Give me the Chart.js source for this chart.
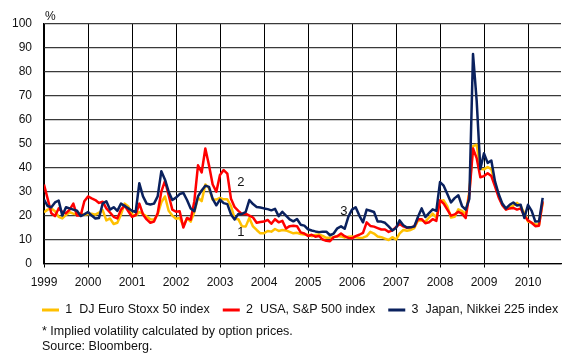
<!DOCTYPE html>
<html>
<head>
<meta charset="utf-8">
<script src="https://cdn.jsdelivr.net/npm/chart.js@4/dist/chart.umd.min.js"></script>
<style>
  html, body { margin: 0; padding: 0; background: #fff; }
  #wrap { position: relative; width: 569px; height: 353px; }
</style>
</head>
<body>
<div id="wrap"><canvas id="c" width="569" height="353"></canvas></div>
<script>
// Year tick labels (x axis), one every 12 months starting Jan 1999
const years = ['1999','2000','2001','2002','2003','2004','2005','2006','2007','2008','2009','2010'];

// Series names
const seriesNames = ['1  DJ Euro Stoxx 50 index', '2  USA, S&P 500 index', '3  Japan, Nikkei 225 index'];

// Monthly implied volatility, %, Jan 1999 .. May 2010
const euroStoxx = [
  21.4, 22.5, 23, 21.8, 19.5, 18.8, 20.3, 21.4, 20.8, 20.6, 21, 20.2,
  20.7, 20.8, 20.4, 21.2, 22.3, 18, 18.8, 16.5, 17, 20.5, 25, 23.8,
  20.5, 20, 21.5, 20.7, 19.6, 18.5, 18.3, 20.5, 25.5, 28, 22, 20,
  18.7, 19, 15.8, 18.8, 17.5, 21.5, 27.5, 26, 33, 31.5, 26.7, 26.7,
  27.4, 26.8, 26.8, 24, 18.7, 18.5, 15.5, 15.4, 19, 15.5, 14, 12.6,
  12.6, 13.6, 13.3, 14.4, 13.6, 14, 13.8, 13.2, 12.6, 12.8, 12.3, 12.1,
  12, 11.4, 11.9, 12.1, 11.5, 10.7, 10.7, 11, 11.5, 11.3, 10.8, 11.2,
  11.3, 11, 10.7, 10.8, 11.4, 13.2, 12.5, 11.3, 11, 10.4, 9.8, 11,
  10, 12.6, 14, 13.7, 14, 14.8, 18, 18, 17.5, 19.2, 20.8, 19.2,
  26, 26.4, 23.8, 19.2, 19.5, 22.6, 22, 20.6, 30, 49, 49.6, 39.5,
  39.3, 40.3, 39.4, 33.6, 28.3, 24.5, 22.7, 23.5, 24.2, 25.3, 24, 21,
  17.5, 17, 16.3, 16.3, 25.3
];
const sp500 = [
  33, 27, 21, 19.8, 23, 21.5, 21, 22.5, 25, 20, 20, 26,
  28, 27.2, 26.5, 25.3, 25.8, 23, 21.3, 19.5, 18.8, 22.5, 24.2, 21.8,
  19.5, 20.2, 25, 20.5, 18.4, 17, 17.5, 21, 30, 34.5, 28.5, 22.5,
  21.6, 21.8, 15, 19, 18.3, 26, 41, 38, 48, 41, 33, 30,
  37, 39, 37.5, 27, 23.5, 22, 20.6, 20.8, 20, 19.2, 17, 17.3,
  17.5, 18.2, 16.6, 18.5, 17.2, 17.8, 14.6, 15.6, 15.8, 15.6, 13, 12.5,
  11.5, 12, 11.2, 11.5, 10, 9.5, 9.3, 11, 11.4, 12.5, 11.4, 10.7,
  10.5, 11.4, 12, 12.8, 17.2, 15.7, 15.4, 14.8, 14.2, 14.2, 13.2, 13.8,
  15.2, 16.5, 15.5, 14.9, 15.1, 15.5, 18.5, 18.5, 16.8, 17.2, 18.5, 17.8,
  26.4, 25, 22.5, 20, 20.5, 21.6, 20.8, 19, 29, 48, 44, 36,
  36.5, 37.7, 36.5, 32.2, 27.6, 24.3, 22.5, 23, 23.2, 22.5, 23, 20,
  18, 17, 15.6, 15.8, 26
];
const nikkei = [
  26.7, 24, 23.5, 25.5, 26.3, 20, 23.5, 23, 22.5, 22, 19.8, 20.5,
  21.5, 20, 18.8, 19, 25, 26, 22.5, 23.5, 22, 25, 24, 23,
  22, 21.5, 33.5, 28, 25, 24.6, 25, 28, 38.5, 35, 30, 26.5,
  27.5, 29, 29.5, 26.5, 23, 21.8, 28, 30.5, 32.5, 32, 27, 24.3,
  26.7, 25.2, 24.8, 20.5, 18.4, 20.7, 20.7, 21.5, 26.5, 24.8, 23.6, 23.4,
  23, 22.7, 22.2, 22.8, 19.8, 21.6, 20, 18.4, 17.6, 18.6, 16.2, 15.8,
  14.3, 13.8, 13.4, 13.1, 13.3, 13.3, 11.8, 12.5, 14.7, 15.5, 14.5, 19.5,
  22.5, 23.5, 20, 17.2, 22.5, 22, 21.5, 17.5, 17.5, 17, 15.5, 13.8,
  14.8, 18, 16, 15, 15.1, 15.5, 19.5, 23, 19.4, 21, 22.6, 22,
  34, 32.5, 29, 25.5, 27.3, 28.5, 24, 22.5, 27, 87.5, 68, 39.5,
  46, 42, 43, 34.3, 29, 25, 23, 24.5, 25.5, 24.2, 24.5, 19,
  24.5, 22, 17.5, 17.6, 27.4
];

// Number labels written next to the lines (month index, value)
const lineTags = [
  { text: '1', month: 53.7, value: 13 },
  { text: '2', month: 53.7, value: 34 },
  { text: '3', month: 81.8, value: 21.8 }
];

const colors = ['#FFC000', '#FF0000', '#0A215E'];
const FONT = 'Arial, "Liberation Sans", Helvetica, sans-serif';

function toPoints(arr) { return arr.map((v, i) => ({ x: i, y: v })); }

const extraText = {
  id: 'extraText',
  afterLayout(chart) {
    // place legend so its first item starts near x=42, and the footnote at x=42
    const lg = chart.legend;
    if (lg && lg.lineWidths) {
      const pad = lg.options.labels.padding;
      const lw = lg.lineWidths[0];
      lg.right = 42 + lw + 40;
      lg.left = 2 * 42 - pad - lg.right + lw;
      lg.width = lg.right - lg.left;
      lg.top += 3.25; lg.bottom += 3.25;
    }
    if (chart.titleBlock) {
      chart.titleBlock.left = 42;
      chart.titleBlock.top += 1; chart.titleBlock.bottom += 1;
    }
  },
  afterDraw(chart) {
    const ctx = chart.ctx;
    const { x, y } = chart.scales;
    ctx.save();
    ctx.fillStyle = '#111';
    ctx.font = '12px ' + FONT;
    ctx.textAlign = 'left';
    ctx.textBaseline = 'middle';
    ctx.fillText('%', chart.chartArea.left + 1, chart.chartArea.top - 7);
    ctx.font = '13px ' + FONT;
    ctx.textAlign = 'center';
    lineTags.forEach(t => {
      ctx.fillText(t.text, x.getPixelForValue(t.month), y.getPixelForValue(t.value));
    });
    ctx.restore();
  }
};

Chart.defaults.font.family = FONT;
Chart.defaults.font.size = 12;
Chart.defaults.color = '#111';

const baseLabels = Chart.defaults.plugins.legend.labels.generateLabels;

new Chart(document.getElementById('c'), {
  type: 'line',
  data: {
    datasets: [
      { label: seriesNames[0], data: toPoints(euroStoxx), borderColor: colors[0], backgroundColor: colors[0], order: 3 },
      { label: seriesNames[1], data: toPoints(sp500), borderColor: colors[1], backgroundColor: colors[1], order: 2 },
      { label: seriesNames[2], data: toPoints(nikkei), borderColor: colors[2], backgroundColor: colors[2], order: 1 }
    ]
  },
  options: {
    responsive: false,
    animation: false,
    devicePixelRatio: 1,
    layout: { padding: { left: 0, right: 8, top: 24, bottom: 0 } },
    elements: {
      line: { borderWidth: 2.5, tension: 0, borderJoinStyle: 'round', fill: false },
      point: { radius: 0, hoverRadius: 0, pointStyle: 'line' }
    },
    scales: {
      x: {
        type: 'linear',
        min: 0,
        max: 141,
        afterBuildTicks: (scale) => { scale.ticks = years.map((_, i) => ({ value: i * 12 })); },
        afterFit: (scale) => { scale.height = 24; },
        ticks: {
          autoSkip: false, maxRotation: 0, minRotation: 0, padding: 8,
          color: '#111', font: { size: 12 },
          callback: (v) => years[Math.round(v / 12)]
        },
        grid: { color: '#000', lineWidth: 1, drawTicks: true, tickLength: 4, tickColor: '#000' },
        border: { color: '#000', width: 1.2 }
      },
      y: {
        min: 0,
        max: 100,
        afterFit: (scale) => { scale.width = 44; },
        ticks: { stepSize: 10, padding: 12, color: '#111', font: { size: 12 } },
        grid: { color: '#3a3a3a', lineWidth: 1.3, drawTicks: false },
        border: { color: '#000', width: 1.2 }
      }
    },
    plugins: {
      legend: {
        position: 'bottom',
        align: 'center',
        labels: {
          usePointStyle: true,
          pointStyle: 'line',
          pointStyleWidth: 17,
          padding: 13,
          color: '#111',
          font: { size: 12.5 },
          generateLabels: (chart) => baseLabels(chart).map(l => Object.assign(l, { lineWidth: 3, pointStyle: 'line' })),
          sort: (a, b) => a.datasetIndex - b.datasetIndex
        }
      },
      title: {
        display: true,
        position: 'bottom',
        align: 'start',
        text: ['* Implied volatility calculated by option prices.', 'Source: Bloomberg.'],
        color: '#111',
        font: { size: 12.5, weight: 'normal', lineHeight: '15px' },
        padding: { top: 0, bottom: 0 }
      },
      tooltip: { enabled: false }
    }
  },
  plugins: [extraText]
});
</script>
</body>
</html>
